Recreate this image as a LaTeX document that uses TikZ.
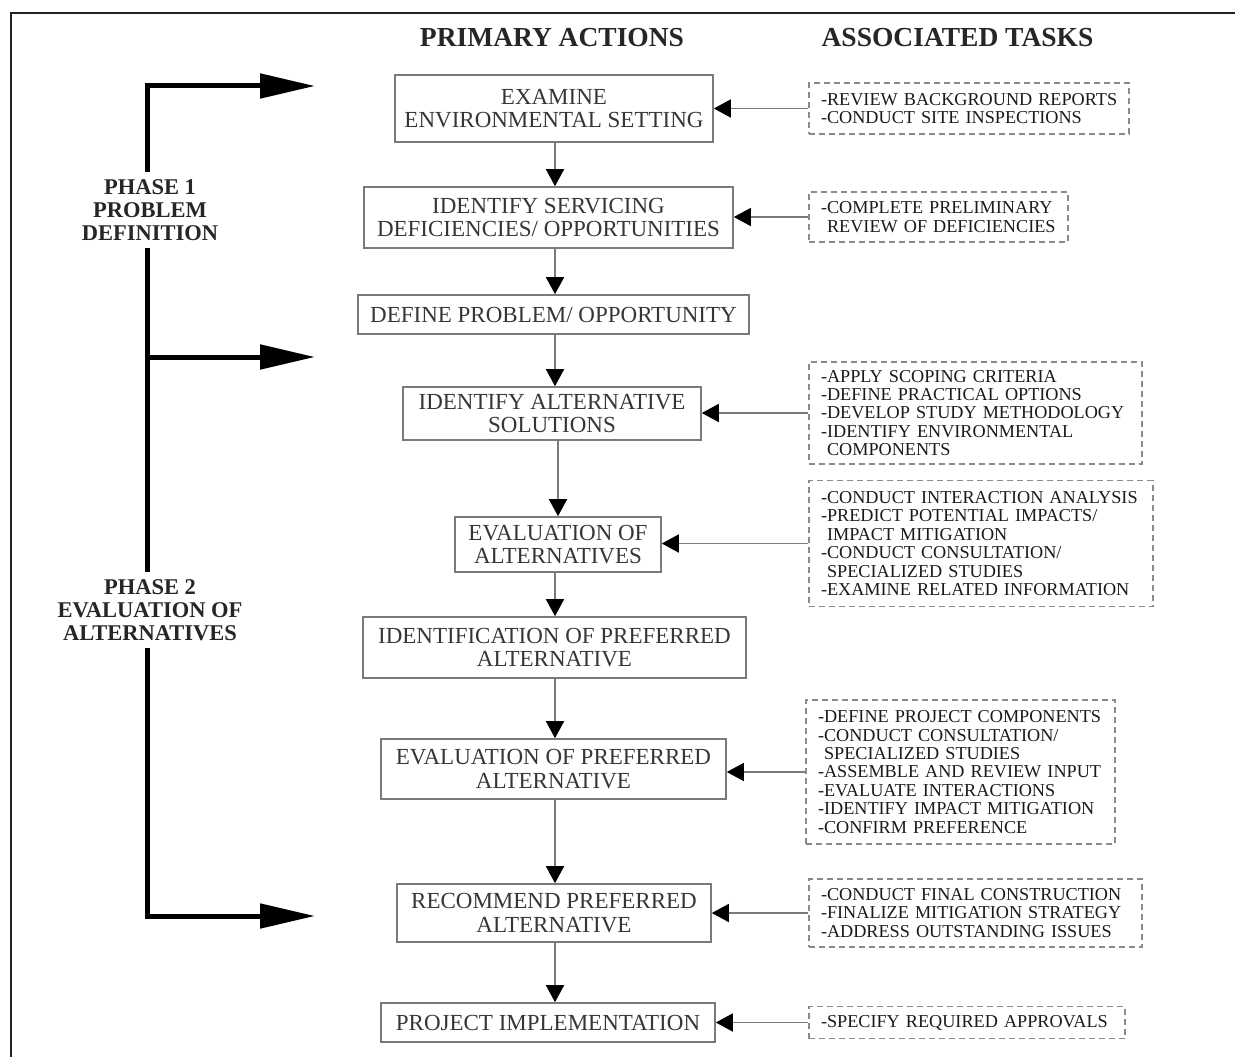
\documentclass[tikz,border=0pt]{standalone}
\usepackage{fontspec}
\setmainfont{Liberation Serif}
\usetikzlibrary{arrows.meta,calc}
\definecolor{boxline}{HTML}{7A7A7A}
\definecolor{acttext}{HTML}{363636}
\definecolor{dashline}{HTML}{8A8A8A}
\definecolor{tasktext}{HTML}{1A1A1A}
\definecolor{flowline}{HTML}{7A7A7A}
\definecolor{frameline}{HTML}{222222}
\tikzset{
  act/.style={draw=boxline, line width=1.6pt, text=acttext, align=center,
    font=\fontsize{23}{23.5}\selectfont, inner sep=0pt},
  task/.style={draw=dashline, dash pattern=on 6pt off 4pt, line width=1.3pt,
    text=tasktext, align=left, font=\fontsize{18.2}{18.4}\selectfont,
    inner xsep=12pt, inner ysep=0pt},
  flow/.style={draw=flowline, line width=1.6pt,
    -{Triangle[length=17pt,width=18pt,color=black]}},
  hdr/.style={font=\bfseries\fontsize{27.5}{28}\selectfont, text=black!85, inner sep=0pt},
  phaselabel/.style={font=\bfseries\fontsize{22.5}{22.8}\selectfont, text=black!85,
    align=center, inner xsep=2pt, inner ysep=7pt},
  phaseline/.style={line width=5pt, black, line join=miter},
  phasetip/.style={-{Triangle[length=55pt,width=24pt]}}
}
\begin{document}
\begin{tikzpicture}[x=1pt,y=-1pt]
\useasboundingbox (0,0) rectangle (1235,1057);
% frame
\coordinate (fr1) at (1235,13);
\coordinate (fr2) at (11,13);
\coordinate (fr3) at (11,1057);
\draw[line width=2pt, frameline] (fr1) -- (fr2) -- (fr3);

% headers
\node[hdr] (h1) at (552,38) {PRIMARY ACTIONS};
\node[hdr] (h2) at (957.5,38) {ASSOCIATED TASKS};

% primary actions
\node[act, minimum width=318pt, minimum height=67pt] (b1) at (554,108.5) {EXAMINE\\ENVIRONMENTAL SETTING};
\node[act, minimum width=369pt, minimum height=61pt] (b2) at (548.5,217.5) {IDENTIFY SERVICING\\DEFICIENCIES/ OPPORTUNITIES};
\node[act, minimum width=391pt, minimum height=39pt] (b3) at (553.5,314.5) {DEFINE PROBLEM/ OPPORTUNITY};
\node[act, minimum width=298pt, minimum height=53pt] (b4) at (552,413.5) {IDENTIFY ALTERNATIVE\\SOLUTIONS};
\node[act, minimum width=206pt, minimum height=55pt] (b5) at (558,544.5) {EVALUATION OF\\ALTERNATIVES};
\node[act, minimum width=383pt, minimum height=61pt] (b6) at (554.5,647.5) {IDENTIFICATION OF PREFERRED\\ALTERNATIVE};
\node[act, minimum width=345pt, minimum height=60pt] (b7) at (553.5,769) {EVALUATION OF PREFERRED\\ALTERNATIVE};
\node[act, minimum width=314pt, minimum height=58pt] (b8) at (554,913) {RECOMMEND PREFERRED\\ALTERNATIVE};
\node[act, minimum width=334pt, minimum height=39pt] (b9) at (548,1022.5) {PROJECT IMPLEMENTATION};

% vertical flow arrows
\coordinate (ax) at (555,0);
\coordinate (axb) at (558,0);
\draw[flow] (b1.south -| ax) -- (b2.north -| ax);
\draw[flow] (b2.south -| ax) -- (b3.north -| ax);
\draw[flow] (b3.south -| ax) -- (b4.north -| ax);
\draw[flow] (b4.south -| axb) -- (b5.north -| axb);
\draw[flow] (b5.south -| ax) -- (b6.north -| ax);
\draw[flow] (b6.south -| ax) -- (b7.north -| ax);
\draw[flow] (b7.south -| ax) -- (b8.north -| ax);
\draw[flow] (b8.south -| ax) -- (b9.north -| ax);

% associated tasks
\node[task, minimum width=320pt, minimum height=51pt, text width=296pt] (t1) at (969,108.5)
  {\mbox{-REVIEW BACKGROUND REPORTS}\\\mbox{-CONDUCT SITE INSPECTIONS}};
\node[task, minimum width=259pt, minimum height=50pt, text width=235pt] (t2) at (938.5,217)
  {\mbox{-COMPLETE PRELIMINARY}\\\mbox{\hphantom{-}REVIEW OF DEFICIENCIES}};
\node[task, minimum width=333pt, minimum height=102pt, text width=309pt] (t3) at (975.5,413)
  {\mbox{-APPLY SCOPING CRITERIA}\\\mbox{-DEFINE PRACTICAL OPTIONS}\\\mbox{-DEVELOP STUDY METHODOLOGY}\\\mbox{-IDENTIFY ENVIRONMENTAL}\\\mbox{\hphantom{-}COMPONENTS}};
\node[task, minimum width=344pt, minimum height=126pt, text width=320pt] (t4) at (981,543.5)
  {\mbox{-CONDUCT INTERACTION ANALYSIS}\\\mbox{-PREDICT POTENTIAL IMPACTS/}\\\mbox{\hphantom{-}IMPACT MITIGATION}\\\mbox{-CONDUCT CONSULTATION/}\\\mbox{\hphantom{-}SPECIALIZED STUDIES}\\\mbox{-EXAMINE RELATED INFORMATION}};
\node[task, minimum width=309pt, minimum height=144pt, text width=285pt] (t5) at (960.5,772)
  {\mbox{-DEFINE PROJECT COMPONENTS}\\\mbox{-CONDUCT CONSULTATION/}\\\mbox{\hphantom{-}SPECIALIZED STUDIES}\\\mbox{-ASSEMBLE AND REVIEW INPUT}\\\mbox{-EVALUATE INTERACTIONS}\\\mbox{-IDENTIFY IMPACT MITIGATION}\\\mbox{-CONFIRM PREFERENCE}};
\node[task, minimum width=333pt, minimum height=68pt, text width=309pt] (t6) at (975.5,913)
  {\mbox{-CONDUCT FINAL CONSTRUCTION}\\\mbox{-FINALIZE MITIGATION STRATEGY}\\\mbox{-ADDRESS OUTSTANDING ISSUES}};
\node[task, minimum width=316pt, minimum height=32pt, text width=292pt] (t7) at (967,1022.5)
  {\mbox{-SPECIFY REQUIRED APPROVALS}};

% horizontal flows
\draw[flow] (t1.west) -- (t1.west -| b1.east);
\draw[flow] (t2.west) -- (t2.west -| b2.east);
\draw[flow] (t3.west) -- (t3.west -| b4.east);
\draw[flow] (t4.west) -- (t4.west -| b5.east);
\draw[flow] (t5.west) -- (t5.west -| b7.east);
\draw[flow] (t6.west) -- (t6.west -| b8.east);
\draw[flow] (t7.west) -- (t7.west -| b9.east);

% phases
\node[phaselabel] (p1) at (150,210) {PHASE 1\\PROBLEM\\DEFINITION};
\node[phaselabel] (p2) at (150,610) {PHASE 2\\EVALUATION OF\\ALTERNATIVES};
\coordinate (spine) at (147,0);
\coordinate (a1) at (315,86);
\coordinate (a2) at (315,357);
\coordinate (a3) at (315,916);
\draw[phaseline, phasetip] (p1.north -| spine) |- (a1);
\draw[phaseline] (p1.south -| spine) -- (p2.north -| spine);
\draw[phaseline, phasetip] (spine |- a2) -- (a2);
\draw[phaseline, phasetip] (p2.south -| spine) |- (a3);
\end{tikzpicture}
\end{document}
